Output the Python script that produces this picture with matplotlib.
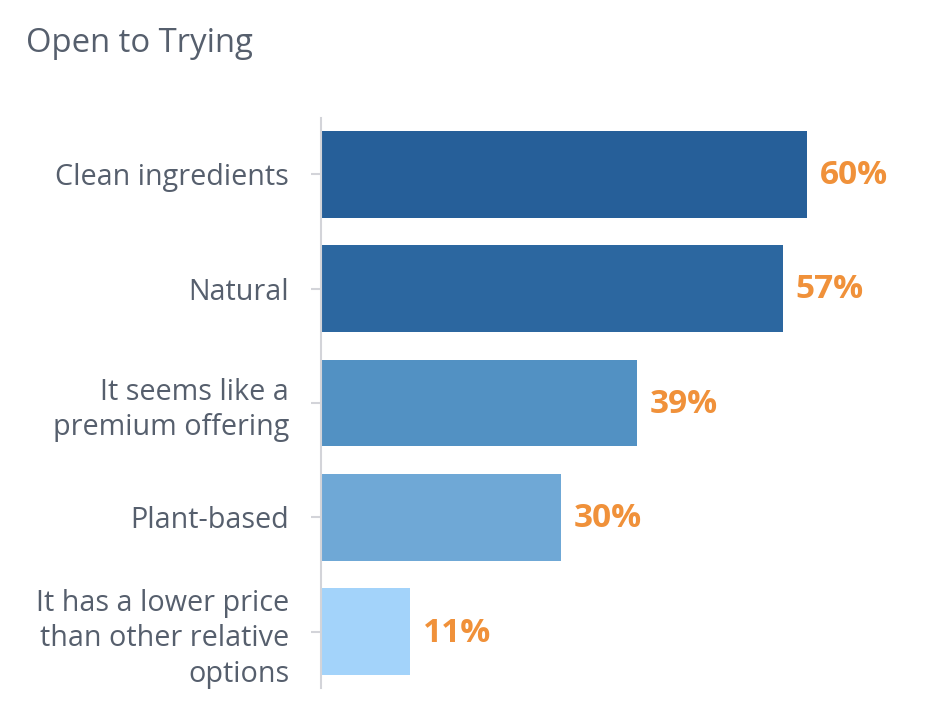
import matplotlib
matplotlib.use("Agg")
import matplotlib.pyplot as plt

categories = ["Clean ingredients", "Natural", "It seems like a\npremium offering",
              "Plant-based", "It has a lower price\nthan other relative\noptions"]
values = [60, 57, 39, 29.6, 11]
colors = ["#265F99", "#2C67A0", "#5291C3", "#6FA8D6", "#A3D3FA"]
title = "Open to Trying"

plt.rcParams['font.family'] = ['Open Sans', 'DejaVu Sans']

W, H = 938, 720
fig = plt.figure(figsize=(W/100, H/100), dpi=100)
left = 321 / W
right = 930 / W
ax = fig.add_axes([left, (H - 688) / H, right - left, 570 / H])

y = list(range(len(categories)))
ax.barh(y, values, height=0.76, color=colors, edgecolor="none")
xmax = (930 - 321) / 8.1
ax.set_xlim(0, xmax)
ax.set_ylim(4.49, -0.49)

for yi, v in zip(y, values):
    ax.text(v + 1.6, yi + 0.01, f"{v:.0f}%", va="center", ha="left",
            color="#F0913A", fontsize=24, fontweight="bold")

ax.set_yticks(y)
ax.set_yticklabels(categories, fontsize=20.7, color="#565F6D", linespacing=1.3)
ax.tick_params(axis="y", length=7, width=1.5, color="#D3D4D9", pad=16)
ax.set_xticks([])
for s in ["top", "right", "bottom"]:
    ax.spines[s].set_visible(False)
ax.spines["left"].set_color("#D3D4D9")
ax.spines["left"].set_linewidth(1.5)

fig.text(26 / W, 1 - 52 / H, title, fontsize=23.7, color="#565F6D", va="baseline", ha="left")

fig.savefig("out.png", dpi=100, facecolor="white")
